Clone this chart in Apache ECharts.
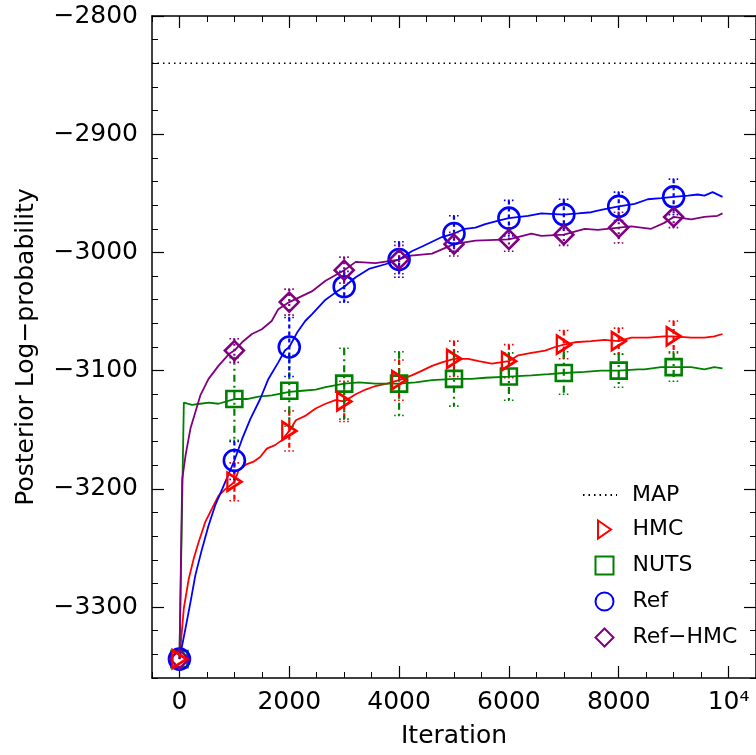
<!DOCTYPE html>
<html>
<head>
<meta charset="utf-8">
<script src="https://cdn.jsdelivr.net/npm/echarts@6/dist/echarts.min.js"></script>
<style>
html,body{margin:0;padding:0;background:#fff;}
#c{width:756px;height:755px;}
</style>
</head>
<body>
<div id="c"></div>
<script>
// ---------- data ----------
const mapValue = -2840;
const markIters = [0,1000,2000,3000,4000,5000,6000,7000,8000,9000];
const hmcMarks    = [-3344,-3194,-3151,-3126,-3108,-3090,-3092,-3078,-3075,-3071];
const nutsMarks   = [-3344,-3124,-3117,-3111,-3111,-3107,-3105,-3102,-3100,-3097];
const refMarks    = [-3344,-3176,-3080,-3029,-3006,-2984,-2971,-2968,-2961,-2953];
const refHmcMarks = [-3344,-3083,-3042,-3015,-3006,-2993,-2989,-2985,-2979,-2970];
const hmcErr    = [0,16,17,17,17,15,14,12,11,13];
const nutsErr   = [0,35,30,30,27,23,20,18,14,12];
const refErr    = [0,16,25,13,15,15,15,13,12,15];
const refHmcErr = [0,10,11,11,12,10,10,9,13,9];

const hmcLine = [[0,-3344],[80,-3301],[170,-3276],[260,-3259],[350,-3245],[470,-3228],[590,-3217],[710,-3206],[840,-3200],[930,-3197],[1000,-3194],[1080,-3184],[1230,-3179],[1350,-3177],[1470,-3173],[1590,-3166],[1740,-3163],[1860,-3159],[2000,-3151],[2120,-3142],[2300,-3138],[2480,-3132],[2660,-3128],[2840,-3125],[3000,-3126],[3210,-3120],[3390,-3116],[3570,-3113],[3780,-3111],[4000,-3108],[4230,-3104],[4420,-3100],[4600,-3096],[4780,-3093],[5000,-3090],[5260,-3090],[5450,-3092],[5690,-3094],[6000,-3092],[6170,-3087],[6410,-3085],[6660,-3083],[6840,-3080],[7000,-3078],[7200,-3076],[7500,-3075],[7740,-3074],[8000,-3075],[8230,-3072],[8530,-3072],[8830,-3071],[9000,-3071],[9320,-3072],[9560,-3072],[9740,-3071],[9890,-3069]];
const nutsLine = [[0,-3344],[80,-3127],[230,-3129],[380,-3128],[530,-3127],[710,-3128],[1000,-3124],[1230,-3124],[1440,-3122],[1680,-3121],[2000,-3118],[2240,-3117],[2480,-3116],[2660,-3114],[3000,-3111],[3270,-3110],[3570,-3111],[4000,-3111],[4300,-3110],[4600,-3108],[5000,-3107],[5320,-3107],[5570,-3106],[6000,-3105],[6410,-3104],[6720,-3103],[7000,-3102],[7380,-3101],[7680,-3100],[8000,-3100],[8350,-3099],[8470,-3099],[8770,-3097],[9000,-3097],[9320,-3097],[9560,-3099],[9740,-3097],[9890,-3098]];
const refLine = [[0,-3344],[110,-3318],[200,-3296],[290,-3273],[410,-3251],[530,-3231],[650,-3214],[780,-3200],[900,-3187],[1000,-3176],[1140,-3158],[1290,-3141],[1470,-3124],[1620,-3107],[1800,-3093],[1920,-3083],[2000,-3080],[2140,-3068],[2290,-3058],[2420,-3052],[2660,-3040],[2840,-3034],[3000,-3029],[3210,-3021],[3450,-3014],[3750,-3010],[4000,-3006],[4230,-2999],[4420,-2995],[4600,-2991],[4780,-2987],[5000,-2984],[5200,-2980],[5390,-2979],[5570,-2976],[5810,-2973],[6000,-2971],[6350,-2969],[6590,-2967],[7000,-2968],[7260,-2967],[7500,-2966],[7680,-2964],[8000,-2961],[8290,-2959],[8530,-2955],[8770,-2954],[9000,-2953],[9260,-2952],[9440,-2951],[9560,-2952],[9710,-2949],[9890,-2953]];
const refHmcLine = [[0,-3344],[50,-3192],[110,-3172],[200,-3149],[290,-3135],[380,-3121],[530,-3107],[710,-3096],[900,-3086],[1000,-3083],[1140,-3076],[1320,-3069],[1500,-3065],[1680,-3058],[1800,-3048],[2000,-3042],[2180,-3038],[2410,-3033],[2660,-3024],[3000,-3015],[3210,-3008],[3570,-3009],[4000,-3006],[4170,-3003],[4600,-3001],[5000,-2993],[5390,-2990],[6000,-2989],[6410,-2984],[6590,-2986],[7000,-2985],[7380,-2980],[7620,-2981],[8000,-2979],[8230,-2978],[8590,-2980],[8830,-2975],[9000,-2970],[9320,-2972],[9560,-2970],[9800,-2969],[9890,-2967]];

const xMajorTicks = [0,2000,4000,6000,8000,10000];
const yMajorTicks = [-3300,-3200,-3100,-3000,-2900,-2800];

// ---------- chart ----------
const FONT = 'DejaVu Sans';
const RED='#ff0000', GREEN='#008000', BLUE='#0000ff', PURPLE='#800080';
const chart = echarts.init(document.getElementById('c'), null, {renderer:'canvas'});

const fmtY = v => (v < 0 ? '\u2212' + (-v) : String(v));
const fmtX = v => (v === 10000 ? '10\u2074' : String(v));

function xAx(pos, major){
  return {
    type:'value', min:-500, max:10500, position:pos, gridIndex:0,
    interval: major ? undefined : 500,
    axisLine:{show:major, lineStyle:{color:'#000', width:1.5}},
    axisTick: major ? {show:true, inside:true, length:12, customValues:xMajorTicks, lineStyle:{color:'#000', width:1.2}}
                    : {show:true, inside:true, length:6, lineStyle:{color:'#000', width:1}},
    axisLabel: (major && pos==='bottom') ? {show:true, customValues:xMajorTicks, formatter:fmtX, fontSize:25, fontFamily:FONT, color:'#000', margin:12}
                                          : {show:false},
    splitLine:{show:false},
    name: (major && pos==='bottom') ? 'Iteration' : '',
    nameLocation:'middle', nameGap:46,
    nameTextStyle:{fontSize:25, fontFamily:FONT, color:'#000'}
  };
}
function yAx(pos, major){
  return {
    type:'value', min:-3360, max:-2800, position:pos, gridIndex:0,
    interval: major ? undefined : 20,
    axisLine:{show:major, onZero:false, lineStyle:{color:'#000', width:1.5}},
    axisTick: major ? {show:true, inside:true, length:12, customValues:yMajorTicks, lineStyle:{color:'#000', width:1.2}}
                    : {show:true, inside:true, length:6, lineStyle:{color:'#000', width:1}},
    axisLabel: (major && pos==='left') ? {show:true, customValues:yMajorTicks, formatter:fmtY, fontSize:25, fontFamily:FONT, color:'#000', margin:14}
                                        : {show:false},
    splitLine:{show:false},
    name: (major && pos==='left') ? 'Posterior Log\u2212probability' : '',
    nameLocation:'middle', nameGap:113,
    nameTextStyle:{fontSize:25, fontFamily:FONT, color:'#000'}
  };
}

function lineSeries(data, color){
  return {type:'line', data:data, showSymbol:false, symbol:'none', z:2,
          lineStyle:{color:color, width:1.8}, itemStyle:{color:color}, silent:true, animation:false};
}
function markSeries(name, vals, color, symbol, size){
  return {type:'scatter', name:name, data: markIters.map((x,i)=>[x, vals[i]]), z:5,
          symbol:symbol, symbolSize:size,
          itemStyle:{color:'none', borderColor:color, borderWidth:2.6, opacity:1}, animation:false};
}
function errSeries(vals, errs, color, dash){
  return {type:'custom', z:4, animation:false, silent:true,
    data: markIters.map((x,i)=>[x, vals[i], errs[i]]),
    renderItem:function(params, api){
      const x = api.value(0), y = api.value(1), e = api.value(2);
      if (!e) return null;
      const t = api.coord([x, y+e]), b = api.coord([x, y-e]);
      const w = 5;
      return {type:'group', children:[
        {type:'line', shape:{x1:t[0],y1:t[1],x2:b[0],y2:b[1]}, style:{stroke:color, lineWidth:2.2, lineDash:dash}},
        {type:'line', shape:{x1:t[0]-w,y1:t[1],x2:t[0]+w,y2:t[1]}, style:{stroke:color, lineWidth:1.6, lineDash:[1.6,2.4]}},
        {type:'line', shape:{x1:b[0]-w,y1:b[1],x2:b[0]+w,y2:b[1]}, style:{stroke:color, lineWidth:1.6, lineDash:[1.6,2.4]}}
      ]};
    }
  };
}

const triPath = 'path://M0,0L13,9L0,18Z';

const option = {
  backgroundColor:'#fff',
  animation:false,
  grid:{left:152, top:16, width:606, height:662, containLabel:false},
  xAxis:[xAx('bottom',true), xAx('bottom',false), xAx('top',true), xAx('top',false)],
  yAxis:[yAx('left',true), yAx('left',false), yAx('right',true), yAx('right',false)],
  legend:[{
    data:[{name:'MAP', itemStyle:{color:'rgba(0,0,0,0)', borderColor:'rgba(0,0,0,0)', borderWidth:0}}],
    orient:'vertical', left:577, top:479, itemWidth:34, itemHeight:18,
    selectedMode:false,
    textStyle:{fontSize:22, fontFamily:FONT, color:'#000', lineHeight:22, padding:[0,0,0,10]}
  },{
    data:['HMC','NUTS','Ref','Ref\u2212HMC'],
    orient:'vertical', left:588, top:513, itemWidth:18, itemHeight:18, itemGap:13,
    selectedMode:false,
    textStyle:{fontSize:22, fontFamily:FONT, color:'#000', lineHeight:22, padding:[0,0,0,14]}
  }],
  series:[
    {type:'line', name:'MAP', data:[[-500,mapValue],[10500,mapValue]], symbol:'none', showSymbol:false, z:1,
     lineStyle:{color:'#000', width:1.5, type:[1.5,4]}, itemStyle:{color:'#000'}, silent:true},
    lineSeries(hmcLine, RED),
    lineSeries(nutsLine, GREEN),
    lineSeries(refLine, BLUE),
    lineSeries(refHmcLine, PURPLE),
    errSeries(hmcMarks, hmcErr, RED, [5,3]),
    errSeries(nutsMarks, nutsErr, GREEN, [7,4,2,4]),
    errSeries(refMarks, refErr, BLUE, [4,3]),
    errSeries(refHmcMarks, refHmcErr, PURPLE, [2,3]),
    markSeries('NUTS', nutsMarks, GREEN, 'rect', 16),
    markSeries('Ref', refMarks, BLUE, 'circle', 21),
    markSeries('Ref\u2212HMC', refHmcMarks, PURPLE, 'diamond', 19),
    markSeries('HMC', hmcMarks, RED, triPath, [14,18])
  ]
};
chart.setOption(option);
</script>
</body>
</html>
